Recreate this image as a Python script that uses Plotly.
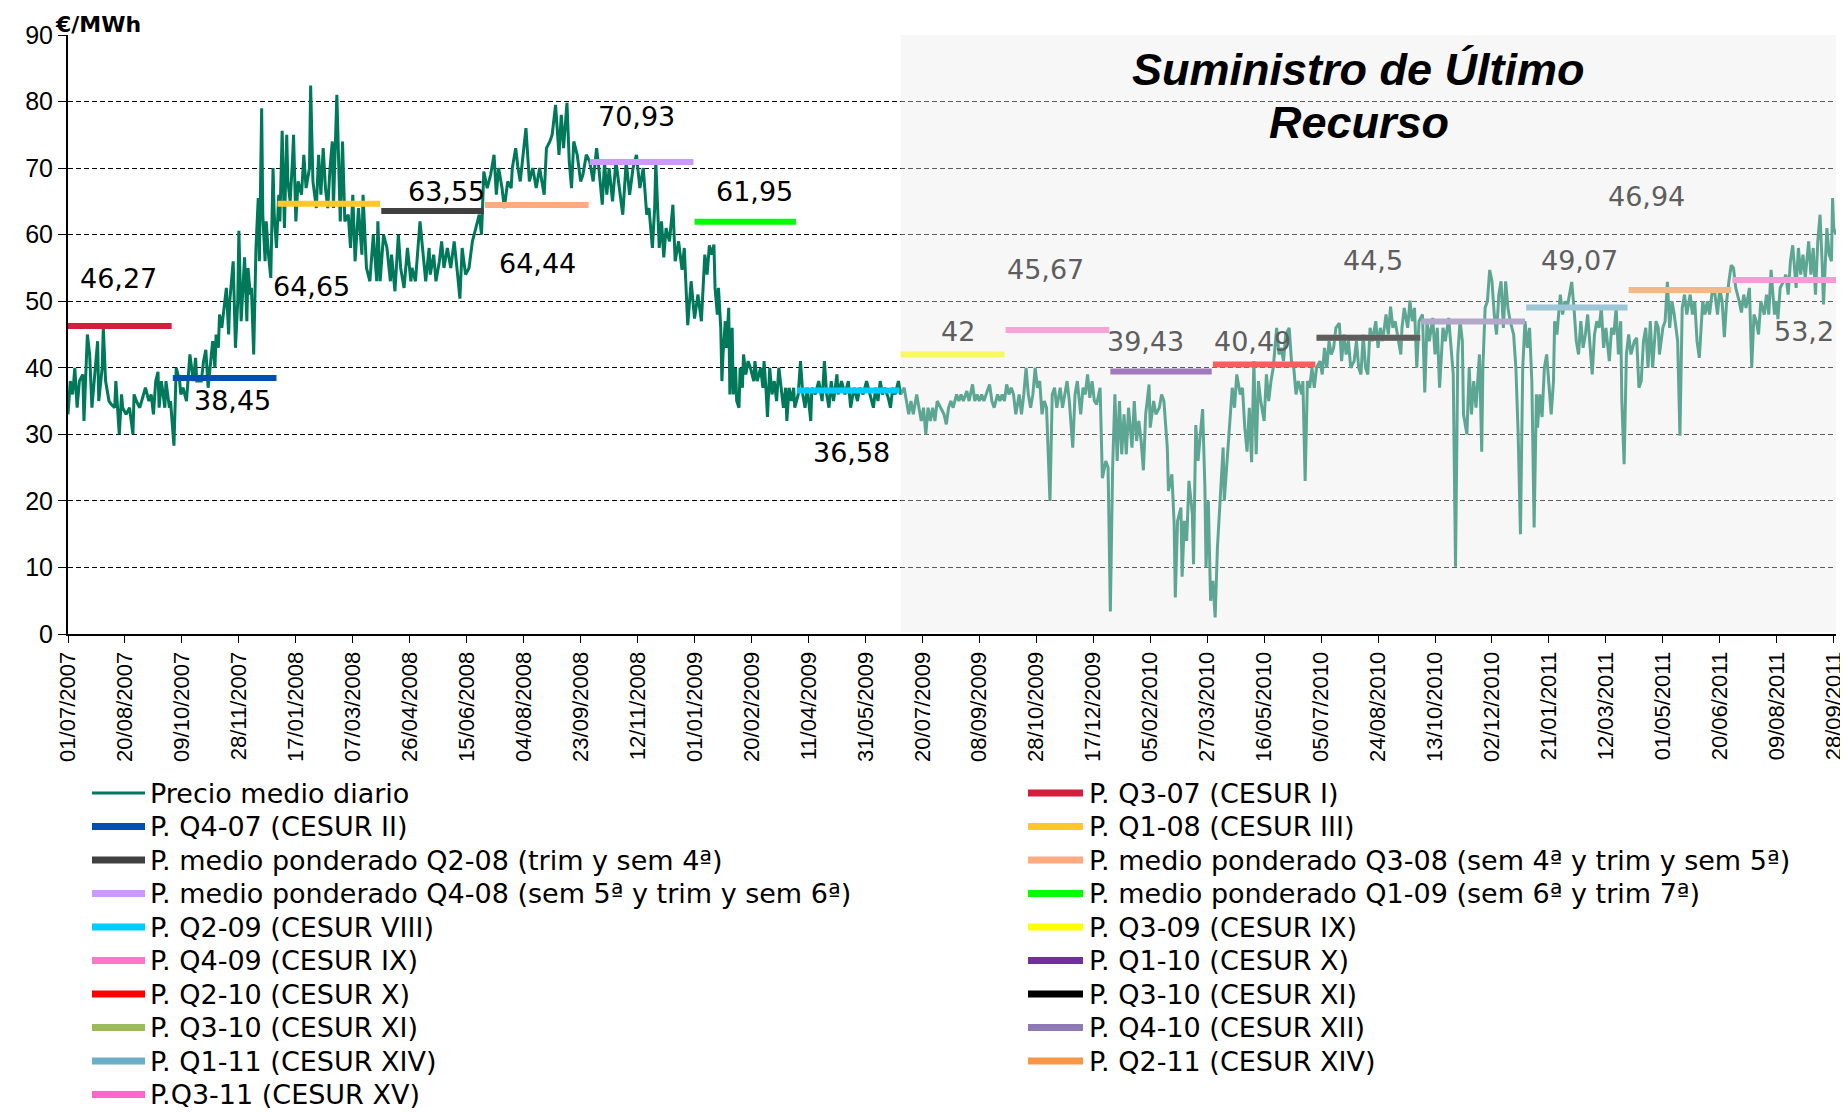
import plotly.graph_objects as go
import pandas as pd

BASE_DATE = pd.Timestamp("2007-07-01")

# ---- daily average price (day offset from 01/07/2007, EUR/MWh) ----
price_days = [
    0, 2, 4, 6, 8, 10, 13, 14, 17, 19,
    21, 24, 26, 27, 30, 31, 33, 36, 38, 41,
    42, 45, 47, 48, 51, 54, 57, 58, 60, 63,
    66, 68, 71, 73, 75, 77, 79, 80, 82, 85,
    86, 89, 90, 93, 95, 98, 99, 101, 104, 107,
    110, 112, 113, 117, 119, 121, 123, 125, 127, 129,
    130, 132, 133, 135, 137, 139, 141, 142, 145, 147,
    149, 150, 152, 155, 157, 158, 160, 161, 163, 165,
    167, 168, 170, 171, 173, 174, 176, 178, 180, 181,
    183, 185, 186, 188, 190, 192, 193, 195, 197, 198,
    200, 202, 205, 207, 209, 212, 213, 215, 218, 220,
    222, 224, 226, 228, 230, 232, 233, 236, 239, 241,
    243, 246, 248, 250, 252, 255, 258, 259, 262, 265,
    268, 271, 272, 274, 277, 280, 283, 284, 287, 290,
    292, 295, 298, 301, 302, 305, 309, 312, 314, 317,
    318, 321, 323, 326, 328, 330, 333, 336, 339, 342,
    344, 346, 349, 352, 355, 358, 361, 363, 365, 368,
    371, 374, 376, 378, 381, 383, 386, 389, 390, 393,
    395, 397, 400, 402, 405, 408, 411, 414, 416, 418,
    420, 423, 425, 428, 431, 433, 435, 438, 440, 442,
    444, 447, 450, 452, 455, 458, 461, 464, 466, 469,
    471, 473, 475, 478, 481, 484, 487, 490, 493, 496,
    499, 502, 505, 508, 510, 513, 515, 516, 519, 521,
    523, 525, 528, 531, 533, 536, 539, 541, 544, 547,
    550, 553, 556, 559, 561, 563, 565, 567, 568, 570,
    571, 573, 574, 575, 577, 578, 580, 581, 583, 584,
    586, 587, 589, 590, 592, 593, 595, 597, 599, 602,
    603, 605, 608, 610, 611, 613, 614, 616, 618, 620,
    622, 624, 626, 628, 630, 631, 633, 635, 637, 638,
    641, 643, 645, 647, 649, 652, 653, 656, 659, 662,
    664, 666, 668, 670, 672, 675, 676, 679, 682, 685,
    687, 690, 693, 695, 698, 701, 704, 707, 709, 711,
    713, 715, 717, 720, 722, 724, 726, 729, 731, 734,
    736, 738, 740, 742, 745, 747, 749, 751, 753, 755,
    757, 759, 761, 763, 766, 769, 771, 773, 775, 777,
    780, 782, 784, 786, 789, 791, 794, 796, 798, 800,
    802, 804, 807, 809, 811, 813, 816, 818, 820, 822,
    824, 826, 828, 830, 832, 835, 837, 839, 841, 843,
    845, 847, 849, 851, 853, 855, 857, 859, 862, 864,
    866, 868, 871, 873, 875, 877, 879, 882, 884, 886,
    889, 891, 893, 895, 897, 899, 901, 903, 906, 908,
    911, 913, 915, 917, 919, 921, 923, 925, 927, 929,
    931, 934, 936, 938, 940, 942, 944, 946, 949, 950,
    953, 955, 958, 960, 962, 965, 966, 969, 971, 972,
    974, 977, 978, 980, 982, 984, 987, 988, 990, 992,
    994, 996, 998, 999, 1001, 1003, 1005, 1007, 1009, 1012,
    1014, 1015, 1018, 1020, 1022, 1024, 1026, 1029, 1031, 1033,
    1035, 1037, 1039, 1041, 1043, 1045, 1047, 1050, 1052, 1054,
    1056, 1058, 1061, 1063, 1065, 1067, 1069, 1072, 1074, 1076,
    1078, 1080, 1083, 1084, 1086, 1088, 1090, 1092, 1094, 1096,
    1099, 1101, 1103, 1105, 1107, 1109, 1111, 1113, 1116, 1118,
    1120, 1122, 1124, 1126, 1129, 1131, 1133, 1135, 1137, 1139,
    1141, 1143, 1145, 1148, 1150, 1152, 1154, 1157, 1159, 1161,
    1163, 1165, 1168, 1170, 1171, 1173, 1176, 1178, 1180, 1182,
    1184, 1186, 1189, 1191, 1193, 1195, 1198, 1200, 1202, 1204,
    1207, 1209, 1212, 1214, 1216, 1218, 1220, 1222, 1224, 1225,
    1228, 1230, 1232, 1234, 1236, 1239, 1241, 1242, 1244, 1246,
    1248, 1250, 1252, 1254, 1256, 1258, 1260, 1262, 1264, 1266,
    1269, 1271, 1273, 1275, 1277, 1279, 1281, 1283, 1285, 1287,
    1289, 1290, 1292, 1294, 1296, 1298, 1300, 1302, 1304, 1305,
    1307, 1310, 1312, 1314, 1316, 1318, 1320, 1322, 1324, 1326,
    1328, 1330, 1332, 1334, 1337, 1338, 1340, 1342, 1344, 1346,
    1348, 1350, 1353, 1355, 1357, 1359, 1361, 1363, 1364, 1366,
    1368, 1370, 1372, 1375, 1377, 1379, 1381, 1383, 1385, 1387,
    1389, 1391, 1394, 1396, 1397, 1400, 1402, 1404, 1406, 1408,
    1410, 1413, 1415, 1417, 1419, 1421, 1424, 1426, 1428, 1430,
    1432, 1435, 1437, 1439, 1441, 1443, 1445, 1448, 1450, 1452,
    1454, 1456, 1458, 1460, 1462, 1464, 1467, 1469, 1471, 1473,
    1476, 1478, 1480, 1482, 1484, 1486, 1489, 1491, 1493, 1495,
    1498, 1500, 1501, 1503, 1506, 1508, 1510, 1512, 1514, 1517,
    1519, 1521, 1523, 1525, 1528, 1530, 1532, 1534, 1536, 1538,
    1540, 1541, 1544, 1546, 1548, 1549, 1550, 1552,
]
price_values = [
    33, 38, 36, 40, 34, 38, 39, 32, 45, 42,
    34, 40, 44, 35, 40, 46, 38, 35, 34.5, 34,
    38, 30, 36, 34, 33, 34, 30, 36, 35, 34,
    36, 37, 35, 36, 33, 38, 39.4, 34, 38, 34,
    38, 34, 35, 28.3, 40, 38, 36, 37, 35, 42,
    38, 41.5, 38, 38, 41, 42.7, 37, 41, 44, 40,
    45, 43, 48, 46, 49, 52, 45, 50, 56, 43,
    50, 60.6, 47, 56.6, 47, 55, 51, 52, 42, 58,
    65.5, 56, 79, 63, 56, 62, 57, 53.5, 70, 63,
    58, 66, 62, 75.6, 61, 75, 68, 65, 71, 75,
    62, 68, 66, 72, 67, 70, 82.4, 68, 64, 72,
    66, 73, 67, 64, 70, 74, 64, 81, 62, 74,
    62, 63, 58, 66, 56, 64, 57, 66, 55, 53,
    60, 53, 62, 53, 60, 58, 53, 57, 51.5, 60,
    55, 52, 58, 53, 55, 53, 62, 57, 53, 58,
    54, 57, 53, 56, 59, 55, 58, 55, 59, 54,
    50.4, 58, 54, 55, 59, 61, 63, 60, 69.5, 67,
    69, 72, 66, 70, 67, 64, 68, 67, 70, 73,
    70, 68, 73, 76, 68, 70, 67, 70, 68, 66,
    73, 74, 75, 79.5, 72, 78, 73, 79.8, 71, 67,
    74, 72, 68, 69, 72, 71, 68, 73, 70, 64.5,
    71, 66, 70, 65, 71, 67, 63, 71, 66, 70,
    72, 67, 70, 63, 64, 58, 64, 71, 58, 62,
    56.6, 61, 59, 64.5, 56, 59, 54.7, 58, 46.4, 53,
    47.4, 51, 47, 57, 54, 58.4, 57, 58.5, 52, 48,
    52, 46, 38, 42, 47, 43, 49, 36, 46, 36,
    40, 35, 34, 40, 37, 42, 39, 41, 40, 38,
    41, 38, 40, 37, 41, 36, 32.6, 40, 36, 38,
    35, 40, 37, 34, 37, 32, 37, 35, 37, 34,
    36, 41, 36, 34, 37, 32, 37, 36, 38, 35,
    41, 36, 34, 38, 35, 39, 36, 38, 36, 38,
    34, 37, 35, 37, 36, 38, 36, 34, 37, 35,
    38, 36, 37, 35.5, 34, 37, 36, 38, 36, 37,
    35, 33, 35, 33, 36, 34, 32, 34, 30, 34,
    32, 34, 32, 35, 34, 33, 31.5, 34, 35, 34,
    36, 35, 36, 35, 36.5, 35, 37.5, 35, 36, 35,
    36, 35, 36.5, 37.5, 35, 34, 36, 35, 36, 35,
    37.5, 36, 37, 36, 33, 36, 33, 36, 40, 36,
    34, 36, 40, 37, 38, 33, 35, 34, 20, 36,
    37, 34, 37, 34, 36, 38, 35, 28, 36, 38,
    33, 37, 36, 39, 35.5, 38, 35, 34.5, 37, 23.4,
    26, 25, 3.4, 25, 36, 26, 35, 27, 33, 27,
    34, 28, 35, 29, 32, 29, 24.6, 33, 37.5, 31,
    35, 33, 34, 36, 35, 28, 21.5, 24, 16.6, 5.5,
    17, 19, 8.6, 17, 14, 23, 18, 10.5, 31.4, 26,
    30, 33.8, 22, 10, 20, 5, 8, 2.5, 13, 22,
    28, 20, 27, 32, 37, 34, 39, 36, 37, 31,
    27.4, 34, 25.8, 41, 27, 38, 35, 32, 39, 35,
    38, 40, 46, 42, 43, 41, 45, 46, 41, 40,
    36, 38, 36, 38, 23, 38, 37, 40, 37, 40,
    41, 39, 43, 40, 44, 42, 43, 46, 46.7, 41,
    45, 42, 44, 40, 41, 44, 40, 39, 45, 40,
    39, 46, 44, 47, 43, 46, 44, 48, 45, 49.2,
    46, 47, 44, 42, 46, 49, 46, 50.1, 47, 49,
    40, 47, 48, 36.3, 47, 44, 47.5, 42, 46, 37,
    46, 44, 47.5, 43, 39, 10.1, 42, 47, 44, 33,
    30, 40, 33, 38, 34, 42, 27.4, 40, 49, 50,
    54.7, 53, 48, 45, 51, 53, 46, 53, 49, 47,
    45, 40, 30, 15, 40, 47, 43, 46, 38, 16,
    36, 31, 36, 32.6, 40, 42, 37, 33, 38, 47,
    45, 51, 48, 50, 49, 51, 52.9, 49, 44, 42,
    47, 43, 45, 48, 42, 39, 45, 47, 46, 49,
    43, 46, 41, 46, 45, 49, 42, 47, 35, 25.5,
    42, 45, 42, 44, 44.5, 37, 38, 44, 46, 40,
    47, 40, 47, 46, 42, 46, 47, 52.9, 46, 50,
    48, 44, 29.8, 49, 51, 48, 51, 48, 50, 44,
    41.5, 50, 48, 50, 48, 51, 52, 48, 52, 50,
    44.6, 50, 53, 55.4, 55, 52, 50, 48.3, 51, 49,
    52, 40, 48, 47, 45, 50, 48, 51, 48, 54.7,
    48, 50, 47.3, 52, 53, 54, 51, 56, 58.4, 52,
    58, 54, 57, 53.5, 59, 54, 58, 51, 59, 63,
    55, 49.5, 61, 57, 56, 65.5, 61, 60,
]

# ---- quarterly reference prices ----
seg_names = [
    "P. Q3-07 (CESUR I)",
    "P. Q4-07 (CESUR II)",
    "P. Q1-08 (CESUR III)",
    "P. medio ponderado Q2-08 (trim y sem 4ª)",
    "P. medio ponderado Q3-08 (sem 4ª y trim y sem 5ª)",
    "P. medio ponderado Q4-08 (sem 5ª y trim y sem 6ª)",
    "P. medio ponderado Q1-09 (sem 6ª y trim 7ª)",
    "P. Q2-09 (CESUR VIII)",
    "P. Q3-09 (CESUR IX)",
    "P. Q4-09 (CESUR IX)",
    "P. Q1-10 (CESUR X)",
    "P. Q2-10 (CESUR X)",
    "P. Q3-10 (CESUR XI)",
    "P. Q3-10 (CESUR XI)",
    "P. Q4-10 (CESUR XII)",
    "P. Q1-11 (CESUR XIV)",
    "P. Q2-11 (CESUR XIV)",
    "P.Q3-11 (CESUR XV)",
]
seg_start = ["2007-07-01", "2007-10-01", "2008-01-01", "2008-04-01", "2008-07-01",
             "2008-10-01", "2009-01-01", "2009-04-01", "2009-07-01", "2009-10-01",
             "2010-01-01", "2010-04-01", "2010-07-01", "2010-07-01", "2010-10-01",
             "2011-01-01", "2011-04-01", "2011-07-01"]
seg_end = ["2007-09-30", "2007-12-31", "2008-03-31", "2008-06-30", "2008-09-30",
           "2008-12-31", "2009-03-31", "2009-06-30", "2009-09-30", "2009-12-31",
           "2010-03-31", "2010-06-30", "2010-09-30", "2010-09-30", "2010-12-31",
           "2011-03-31", "2011-06-30", "2011-09-30"]
seg_values = [46.27, 38.45, 64.65, 63.55, 64.44, 70.93, 61.95, 36.58, 42, 45.67,
              39.43, 40.49, 44.5, 44.5, 46.94, 49.07, 51.7, 53.2]

tick_labels = [
    "01/07/2007", "20/08/2007", "09/10/2007", "28/11/2007", "17/01/2008", "07/03/2008",
    "26/04/2008", "15/06/2008", "04/08/2008", "23/09/2008", "12/11/2008", "01/01/2009",
    "20/02/2009", "11/04/2009", "31/05/2009", "20/07/2009", "08/09/2009", "28/10/2009",
    "17/12/2009", "05/02/2010", "27/03/2010", "16/05/2010", "05/07/2010", "24/08/2010",
    "13/10/2010", "02/12/2010", "21/01/2011", "12/03/2011", "01/05/2011", "20/06/2011",
    "09/08/2011", "28/09/2011",
]

PRICE_NAME = "Precio medio diario"

# ---- styling ----
FONT = "Liberation Sans"
WIDE_FONT = "DejaVu Sans"
PRICE_COLOR = "#00795A"
seg_colors = ["#D41E3C", "#0050B4", "#FFC72C", "#404040", "#FFAA80", "#CC99FF",
              "#00FF00", "#00CCFF", "#FFFF00", "#FF77C8", "#7030A0", "#FF0000",
              "#000000", "#9BBB59", "#8E7AB5", "#6AAEC8", "#F79646", "#FF66CC"]
# legend column of each segment (0 = left, 1 = right)
seg_column = [1, 0, 1, 0, 1, 0, 1, 0, 1, 0, 1, 0, 1, 0, 1, 0, 1, 0]
# drawing order (green Q3-10 hidden under the black one)
draw_order = [0, 1, 2, 3, 4, 5, 6, 7, 8, 9, 10, 11, 13, 12, 14, 15, 16, 17]

price_dates = BASE_DATE + pd.to_timedelta(price_days, unit="D")
tick_vals = pd.to_datetime(tick_labels, format="%d/%m/%Y")

fig = go.Figure()
fig.add_trace(go.Scatter(
    x=price_dates, y=price_values, mode="lines", name=PRICE_NAME,
    line=dict(color=PRICE_COLOR, width=3)))

for i in draw_order:
    fig.add_trace(go.Scatter(
        x=[seg_start[i], seg_end[i]], y=[seg_values[i], seg_values[i]],
        mode="lines", name=seg_names[i],
        line=dict(color=seg_colors[i], width=6)))

# value labels: (segment index, day offset, y position)
label_pos = [(0, 44, 53.4), (1, 144, 35.1), (2, 214, 52.2), (3, 332, 66.5),
             (4, 412, 55.7), (5, 499, 77.7), (6, 603, 66.5), (7, 688, 27.2),
             (8, 781, 45.4), (9, 858, 54.8), (10, 946, 44.0), (11, 1040, 44.0),
             (12, 1146, 56.1), (15, 1327, 56.1), (14, 1386, 65.8), (17, 1524, 45.4)]
SHADE_START = pd.Timestamp("2009-07-01")
X_END = pd.Timestamp("2011-09-30")
annotations = []
for idx, day, yv in label_pos:
    xd = BASE_DATE + pd.Timedelta(days=day)
    txt = ("%g" % seg_values[idx]).replace(".", ",")
    annotations.append(dict(
        x=xd, y=yv, xref="x", yref="y", text=txt, showarrow=False,
        font=dict(family=WIDE_FONT, size=27,
                  color="#000000" if xd < SHADE_START else "#5E5E5E")))

title_day = BASE_DATE + pd.Timedelta(days=1133)
annotations.append(dict(x=title_day, y=84.8, xref="x", yref="y",
                        text="<b><i>Suministro de Último</i></b>", showarrow=False,
                        font=dict(family=FONT, size=45, color="black")))
annotations.append(dict(x=title_day, y=76.8, xref="x", yref="y",
                        text="<b><i>Recurso</i></b>", showarrow=False,
                        font=dict(family=FONT, size=45, color="black")))

# ---- page geometry: the page body adds an 8 px offset around the figure ----
PAGE_OFF = 8
FIG_W, FIG_H = 1848 - PAGE_OFF, 1112 - PAGE_OFF
PLOT_L, PLOT_R, PLOT_T, PLOT_B = 68, 1836, 35, 634      # plot area in page pixels
M_L = PLOT_L - PAGE_OFF
M_R = FIG_W - (PLOT_R - PAGE_OFF)
M_T = PLOT_T - PAGE_OFF
M_B = FIG_H - (PLOT_B - PAGE_OFF)
PW, PH = PLOT_R - PLOT_L, PLOT_B - PLOT_T


def px_x(p):
    return (p - PLOT_L) / PW


def px_y(p):
    return (PLOT_B - p) / PH


annotations.append(dict(x=px_x(53), y=px_y(10), xref="paper", yref="paper",
                        xanchor="left", yanchor="top", text="<b>€/MWh</b>",
                        showarrow=False,
                        font=dict(family=WIDE_FONT, size=22, color="black")))

# ---- two-column legend (rows ~34 px apart, as in the original) ----
legend_cols = [[(PRICE_NAME, PRICE_COLOR, 3)], []]
for i in range(len(seg_names)):
    legend_cols[seg_column[i]].append((seg_names[i], seg_colors[i], 7))

col_sym_x = [(92, 145), (1028, 1083)]
col_txt_x = [148, 1087]
ROW0, ROW_STEP = 793, 33.5
shapes = [dict(type="rect", xref="x", yref="y", x0=SHADE_START, x1=X_END,
               y0=0.25, y1=90, fillcolor="rgba(235,235,235,0.4)",
               line=dict(width=0), layer="above")]
for c, entries in enumerate(legend_cols):
    for r, (name, color, lw) in enumerate(entries):
        yy = px_y(ROW0 + r * ROW_STEP)
        shapes.append(dict(type="line", xref="paper", yref="paper",
                           x0=px_x(col_sym_x[c][0]), x1=px_x(col_sym_x[c][1]),
                           y0=yy, y1=yy, line=dict(color=color, width=lw)))
        annotations.append(dict(x=px_x(col_txt_x[c]), y=yy, xref="paper", yref="paper",
                                xanchor="left", yanchor="middle", text=name,
                                showarrow=False,
                                font=dict(family=WIDE_FONT, size=27, color="black")))

fig.update_layout(
    width=FIG_W, height=FIG_H,
    margin=dict(l=M_L, r=M_R, t=M_T, b=M_B, autoexpand=False),
    paper_bgcolor="white", plot_bgcolor="white",
    font=dict(family=FONT, color="black"),
    showlegend=False,
    annotations=annotations,
    shapes=shapes,
)
fig.update_xaxes(
    type="date", range=[BASE_DATE, X_END],
    tickmode="array", tickvals=tick_vals, ticktext=tick_labels, tickangle=-90,
    tickfont=dict(family=FONT, size=22, color="black"),
    ticks="outside", ticklen=7, tickcolor="black", tickwidth=1,
    showgrid=False, showline=True, linecolor="black", linewidth=2, zeroline=False)
fig.update_yaxes(
    range=[0, 90], dtick=10, tick0=0,
    tickfont=dict(family=FONT, size=25, color="black"),
    ticks="outside", ticklen=8, tickcolor="black", tickwidth=1,
    showgrid=True, gridcolor="black", gridwidth=1, griddash="5px,3px",
    showline=True, linecolor="black", linewidth=2, zeroline=False)

fig.write_html("out.html")
